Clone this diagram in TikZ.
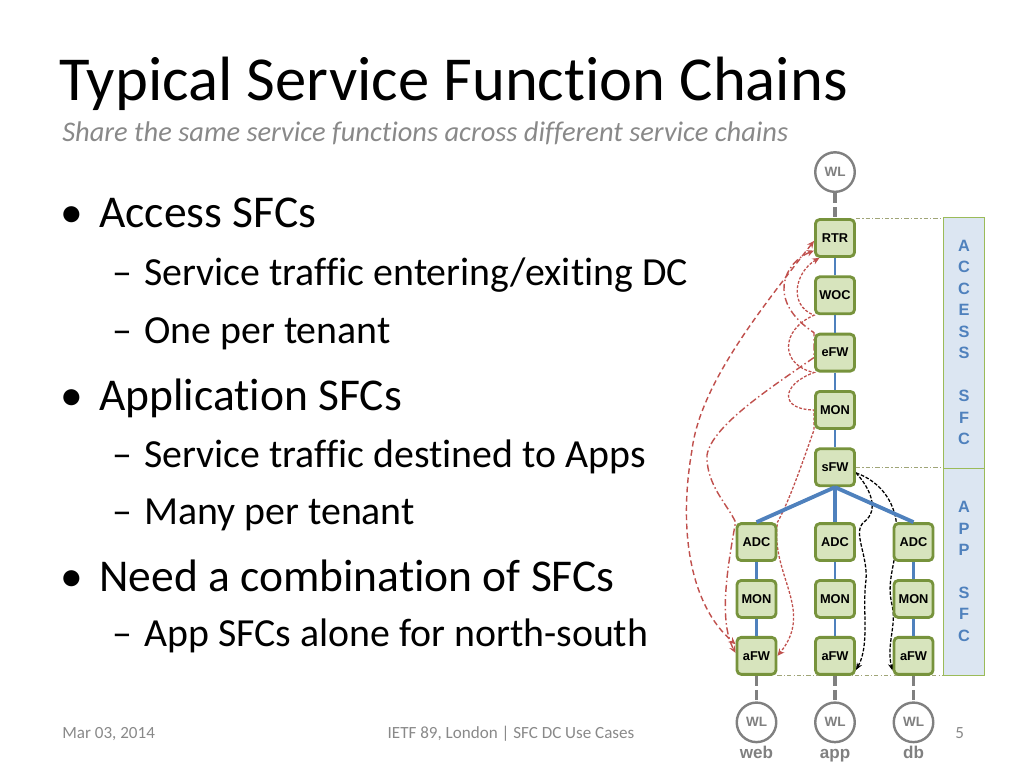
\documentclass[tikz,border=0pt]{standalone}
\usepackage{fontspec}
\setmainfont{Carlito}[Ligatures=NoCommon]
\setsansfont{Liberation Sans}
\usetikzlibrary{arrows.meta, positioning, backgrounds}
\definecolor{sfgreen}{RGB}{119,147,60}
\definecolor{sflight}{RGB}{215,228,189}
\definecolor{linkblue}{RGB}{79,129,189}
\definecolor{wlgray}{RGB}{128,128,128}
\definecolor{chainred}{RGB}{192,80,77}
\definecolor{paneblue}{RGB}{220,230,242}
\definecolor{paneline}{RGB}{155,187,89}
\definecolor{guidegray}{RGB}{160,165,120}
\definecolor{textgray}{RGB}{137,137,137}
\tikzset{
  slidetitle/.style={anchor=base west, inner sep=0pt, font=\fontsize{44}{50}\selectfont},
  subtitle/.style={anchor=base west, inner sep=0pt, text=textgray,
    font=\itshape\fontsize{20}{24}\selectfont},
  lvlone/.style={anchor=base west, inner sep=0pt, font=\fontsize{32}{38}\selectfont},
  lvltwo/.style={anchor=base west, inner sep=0pt, font=\fontsize{28}{34}\selectfont},
  footer/.style={anchor=base, inner sep=0pt, text=textgray, font=\fontsize{12}{14}\selectfont},
  sfbox/.style={rectangle, rounded corners=3pt, draw=sfgreen, fill=sflight,
    line width=2pt, minimum width=27.5pt, minimum height=26pt, inner sep=0pt,
    font=\sffamily\bfseries\fontsize{9}{10}\selectfont},
  wl/.style={circle, draw=wlgray, line width=1.7pt, fill=white, minimum size=27.8pt,
    inner sep=0pt, text=wlgray, font=\sffamily\bfseries\fontsize{9.5}{10}\selectfont},
  wllabel/.style={anchor=base, inner sep=0pt, text=wlgray,
    font=\sffamily\bfseries\fontsize{12}{13}\selectfont},
  panebox/.style={rectangle, draw=paneline, line width=0.6pt, fill=paneblue,
    minimum width=29pt, inner sep=0pt, outer sep=0pt, align=center, text=linkblue,
    font=\sffamily\bfseries\fontsize{11.5}{15.1}\selectfont},
  link/.style={line width=2pt, color=linkblue},
  fanlink/.style={line width=2.7pt, color=linkblue},
  wllink/.style={line width=2.2pt, color=wlgray, dash pattern=on 7pt off 3pt},
  guide/.style={line width=0.6pt, color=guidegray,
    dash pattern=on 3pt off 1.5pt on 0.8pt off 1.5pt},
  rdash/.style={line width=1pt, color=chainred, dash pattern=on 4pt off 2.5pt,
    {Stealth[length=5pt,width=4.5pt]}-{Stealth[length=5pt,width=4.5pt]}},
  rdot/.style={line width=1pt, color=chainred,
    dash pattern=on 5pt off 2pt on 1pt off 2pt,
    {Stealth[length=5pt,width=4.5pt]}-{Stealth[length=5pt,width=4.5pt]}},
  rfine/.style={line width=0.9pt, color=chainred, dash pattern=on 2pt off 1.2pt,
    {Stealth[length=5pt,width=4.5pt]}-{Stealth[length=5pt,width=4.5pt]}},
  bfine/.style={line width=0.9pt, color=black, dash pattern=on 2.5pt off 1.2pt,
    -{Stealth[length=5pt,width=4pt]}},
}
\begin{document}
\begin{tikzpicture}[x=0.703125pt, y=-0.703125pt, node distance=12.3pt]
  \useasboundingbox (0,0) rectangle (1024,768);

  %% Slide text
  \node[slidetitle] (ttl) at (59,101) {Typical Service Function Chains};
  \node[subtitle] (subttl) at (62,142)
    {Share the same service functions across different service chains};

  \node[lvlone] (dotA) at (60,228) {\textbullet};
  \node[lvlone] (accsfc) at (99,228) {Access SFCs};
  \node[lvltwo] (dashA) at (112,286) {–};
  \node[lvltwo] (accone) at (144,286) {Service traffic entering/exiting DC};
  \node[lvltwo] (dashB) at (112,343) {–};
  \node[lvltwo] (acctwo) at (144,343) {One per tenant};

  \node[lvlone] (dotB) at (60,410) {\textbullet};
  \node[lvlone] (appsfc) at (99,410) {Application SFCs};
  \node[lvltwo] (dashC) at (112,467) {–};
  \node[lvltwo] (appone) at (144,467) {Service traffic destined to Apps};
  \node[lvltwo] (dashD) at (112,524) {–};
  \node[lvltwo] (apptwo) at (144,524) {Many per tenant};

  \node[lvlone] (dotC) at (60,591) {\textbullet};
  \node[lvlone] (combo) at (99,591) {Need a combination of SFCs};
  \node[lvltwo] (dashE) at (112,646) {–};
  \node[lvltwo] (comboone) at (144,646) {App SFCs alone for north-south};

  %% Footer
  \node[footer, anchor=base west] (date) at (62,738) {Mar 03, 2014};
  \node[footer] (venue) at (511,738) {IETF 89, London | SFC DC Use Cases};
  \node[footer, anchor=base west] (pageno) at (955,738) {5};

  %% Access chain
  \node[sfbox] (rtr) at (835,238) {RTR};
  \node[sfbox, below=of rtr] (woc) {WOC};
  \node[sfbox, below=of woc] (efw) {eFW};
  \node[sfbox, below=of efw] (mon) {MON};
  \node[sfbox, below=of mon] (sfw) {sFW};
  \node[wl, above=17.6pt of rtr] (wltop) {WL};

  %% App chains
  \node[sfbox, below=24.6pt of sfw] (adcB) {ADC};
  \node[sfbox, left=25.7pt of adcB] (adcA) {ADC};
  \node[sfbox, right=25.7pt of adcB] (adcC) {ADC};
  \node[sfbox, below=12pt of adcA] (monA) {MON};
  \node[sfbox, below=12pt of adcB] (monB) {MON};
  \node[sfbox, below=12pt of adcC] (monC) {MON};
  \node[sfbox, below=12pt of monA] (afwA) {aFW};
  \node[sfbox, below=12pt of monB] (afwB) {aFW};
  \node[sfbox, below=12pt of monC] (afwC) {aFW};
  \node[wl, below=18pt of afwA] (wlweb) {WL};
  \node[wl, below=18pt of afwB] (wlapp) {WL};
  \node[wl, below=18pt of afwC] (wldb) {WL};
  \node[wllabel] (lbweb) at ([yshift=-10.5pt]wlweb.south) {web};
  \node[wllabel] (lbapp) at ([yshift=-10.5pt]wlapp.south) {app};
  \node[wllabel] (lbdb) at ([yshift=-10.5pt]wldb.south) {db};

  %% Side panels
  \node[panebox, minimum height=176.5pt] (accpane) at (964,342.5)
    {A\\C\\C\\E\\S\\S\\[15pt]S\\F\\C};
  \node[panebox, minimum height=145.5pt] (apppane) at (964,571.5)
    {A\\P\\P\\[15pt]S\\F\\C};

  %% Links
  \draw[wllink] (wltop) -- (rtr);
  \draw[link] (rtr) -- (woc);
  \draw[link] (woc) -- (efw);
  \draw[link] (efw) -- (mon);
  \draw[link] (mon) -- (sfw);
  \draw[fanlink] (sfw.south) -- (adcA.north);
  \draw[fanlink] (sfw.south) -- (adcB.north);
  \draw[fanlink] (sfw.south) -- (adcC.north);
  \draw[link] (adcA) -- (monA);
  \draw[link] (monA) -- (afwA);
  \draw[link] (adcB) -- (monB);
  \draw[link] (monB) -- (afwB);
  \draw[link] (adcC) -- (monC);
  \draw[link] (monC) -- (afwC);
  \draw[wllink] (afwA) -- (wlweb);
  \draw[wllink] (afwB) -- (wlapp);
  \draw[wllink] (afwC) -- (wldb);

  \begin{scope}[on background layer]
    %% guides to the panels
    \draw[guide] (rtr.north east) -- (rtr.north east -| accpane.west);
    \draw[guide] (sfw.east) -- (sfw.east -| accpane.west);
    \draw[guide] (afwA.south east) -- (afwA.south east -| apppane.west);

    %% web chains (red)
    \draw[rdash] (rtr.188) .. controls (760,310) and (700,385) .. (692,450)
      .. controls (678,530) and (690,605) .. (afwA.151);
    \draw[rdot] (rtr.211) .. controls (785,262) and (765,300) .. (efw.north west)
      -- (efw.193) .. controls (775,385) and (712,425) .. (707,455)
      .. controls (706,485) and (728,505) .. (adcA.north west)
      .. controls (728,565) and (718,620) .. (afwA.172);
    \draw[rfine] (rtr.232) .. controls (795,272) and (788,305) .. (woc.south west)
      .. controls (780,330) and (780,365) .. (efw.south west)
      .. controls (780,385) and (780,410) .. (mon.west) -- (mon.south west)
      .. controls (805,455) and (790,500) .. (adcA.north east)
      .. controls (770,575) and (815,610) .. (afwA.east);

    %% app / db chains (black)
    \draw[bfine] (sfw.345) .. controls (870,488) and (880,510) .. (864,522)
      .. controls (852,532) and (868,555) .. (866,580)
      .. controls (862,610) and (870,645) .. (afwB.326);
    \draw[bfine] (sfw.345) .. controls (882,482) and (898,505) .. (897,535)
      .. controls (896,565) and (886,580) .. (892,605)
      .. controls (897,625) and (886,645) .. (afwC.215);
  \end{scope}
\end{tikzpicture}
\end{document}
